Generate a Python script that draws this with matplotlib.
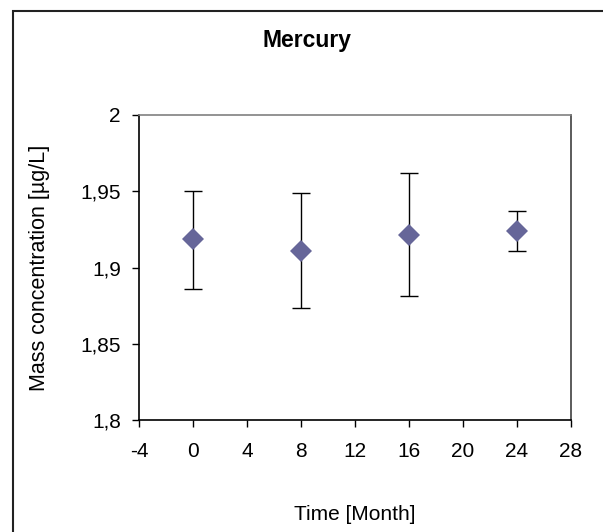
import matplotlib
matplotlib.use("Agg")
import matplotlib.pyplot as plt
from matplotlib.patches import Rectangle

plt.rcParams['font.family'] = ['Liberation Sans', 'DejaVu Sans']

months = [0, 8, 16, 24]
values = [1.9187, 1.9110, 1.9216, 1.9240]
upper = [1.9502, 1.9491, 1.9619, 1.9371]
lower = [1.8862, 1.8733, 1.8811, 1.9110]
yticks = [1.8, 1.85, 1.9, 1.95, 2.0]
ytick_labels = ["1,8", "1,85", "1,9", "1,95", "2"]
xticks = [-4, 0, 4, 8, 12, 16, 20, 24, 28]

W, H = 603, 532
fig = plt.figure(figsize=(W / 100, H / 100), dpi=100)
ax = fig.add_axes([139 / W, 1 - 420 / H, (571 - 139) / W, (420 - 115) / H])

err_lo = [v - l for v, l in zip(values, lower)]
err_hi = [u - v for v, u in zip(values, upper)]
ax.errorbar(months, values, yerr=[err_lo, err_hi], fmt='none', ecolor='black',
            elinewidth=1, capsize=6.5, capthick=1, zorder=2)
ax.plot(months, values, linestyle='none', marker='D', markersize=11,
        color='#666699', markeredgewidth=0, zorder=3)

ax.set_xlim(-4, 28)
ax.set_ylim(1.8, 2.0)
ax.set_xticks(xticks)
ax.set_xticklabels([str(t) for t in xticks])
ax.set_yticks(yticks)
ax.set_yticklabels(ytick_labels)
ax.tick_params(axis='both', direction='out', length=5, width=1, labelsize=15, colors='black')
ax.tick_params(axis='x', pad=11)
ax.tick_params(axis='y', pad=8)

for s in ['left', 'bottom']:
    ax.spines[s].set_color('black')
    ax.spines[s].set_linewidth(1.2)
for s in ['top', 'right']:
    ax.spines[s].set_color('#808080')
    ax.spines[s].set_linewidth(1.2)
ax.spines['right'].set_color('#404040')

ax.set_xlabel("Time [Month]", fontsize=15, va='center')
ax.xaxis.set_label_coords(0.5, (420 - 514) / (420 - 115))
ax.set_ylabel("Mass concentration [µg/L]", fontsize=15.5, va='center')
ax.yaxis.set_label_coords((40 - 139) / (571 - 139), 0.5)

fig.text(307 / W, 1 - 40 / H, "Mercury", fontsize=16.5, fontweight='bold',
         ha='center', va='center')

fig.add_artist(Rectangle((13 / W, -0.5), 2, (H - 11) / H + 0.5, transform=fig.transFigure,
                         fill=False, lw=1.5, ec='#222222'))

fig.savefig("out.png", dpi=100)
